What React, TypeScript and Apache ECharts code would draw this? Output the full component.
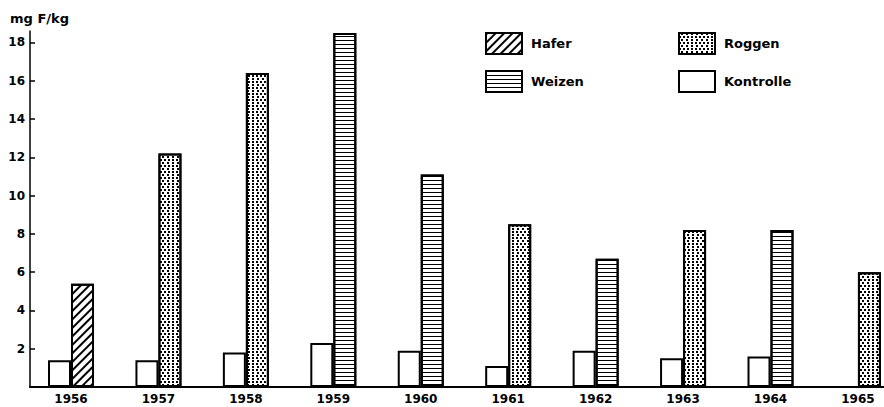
import React, { useEffect, useRef } from "react";
import * as echarts from "echarts";

// Fluoride content of grain per harvest year (mg F/kg)
const years = ["1956", "1957", "1958", "1959", "1960", "1961", "1962", "1963", "1964", "1965"];
const hafer: (number | null)[] = [5.4, null, null, null, null, null, null, null, null, null];
const roggen: (number | null)[] = [null, 12.2, 16.4, null, null, 8.5, null, 8.2, null, 6.0];
const weizen: (number | null)[] = [null, null, null, 18.5, 11.1, null, 6.7, null, 8.2, null];
const kontrolle: (number | null)[] = [1.4, 1.4, 1.8, 2.3, 1.9, 1.1, 1.9, 1.5, 1.6, null];
const yTicks = [2, 4, 6, 8, 10, 12, 14, 16, 18];

const FONT = "DejaVu Sans";
const ink = "#000";

const toPoints = (arr: (number | null)[]) => arr.map((v, i) => [i, v === null ? "-" : v]);

const hatch = {
  symbol: "rect",
  symbolSize: 1,
  color: ink,
  backgroundColor: "#fff",
  dashArrayX: [1, 0],
  dashArrayY: [1.5, 3.4],
  rotation: -Math.PI / 4,
};
const stipple = {
  symbol: "rect",
  symbolSize: 1,
  color: ink,
  backgroundColor: "#fff",
  dashArrayX: [
    [1.5, 1.9],
    [0, 1.7, 1.5, 0.2],
  ],
  dashArrayY: [1.5, 0.3],
};
const stripes = {
  symbol: "rect",
  symbolSize: 1,
  color: ink,
  backgroundColor: "#fff",
  dashArrayX: [1, 0],
  dashArrayY: [1, 3],
};

const barStyle = (decal?: object) => ({
  color: "#fff",
  borderColor: ink,
  borderWidth: 2,
  ...(decal ? { decal } : {}),
});

const legendAt = (name: string, left: number, top: number) => ({
  data: [name],
  left,
  top,
  padding: 0,
  icon: "rect",
  itemWidth: 36,
  itemHeight: 21,
  selectedMode: false,
  textStyle: {
    fontFamily: FONT,
    fontWeight: "bold",
    fontSize: 13,
    color: ink,
    padding: [0, 0, 0, 4],
  },
});

export default function App() {
  const ref = useRef<HTMLDivElement>(null);

  useEffect(() => {
    if (!ref.current) return;
    const chart = echarts.init(ref.current, null, { renderer: "svg" });
    const xMin = -0.469;
    const xMax = 9.298;
    chart.setOption({
      animation: false,
      backgroundColor: "#fff",
      grid: { left: 30, right: 0, top: 31, bottom: 20 },
      graphic: [
        {
          type: "text",
          left: 10,
          top: 12,
          style: {
            text: "mg F/kg",
            fontFamily: FONT,
            fontWeight: "bold",
            fontSize: 13,
            fill: ink,
          },
        },
      ],
      legend: [
        legendAt("Hafer", 485, 32),
        legendAt("Roggen", 678, 32),
        legendAt("Weizen", 485, 70),
        legendAt("Kontrolle", 678, 70),
      ],
      xAxis: {
        type: "value",
        min: xMin,
        max: xMax,
        splitLine: { show: false },
        axisLine: { lineStyle: { color: ink, width: 2 } },
        axisTick: { show: false },
        axisLabel: {
          customValues: years.map((_, i) => i),
          formatter: (v: number) => years[Math.round(v)] ?? "",
          margin: 6,
          color: ink,
          fontFamily: FONT,
          fontWeight: "bold",
          fontSize: 12,
        },
      },
      yAxis: {
        type: "value",
        min: 0,
        max: 18.6,
        splitLine: { show: false },
        axisLine: { show: true, onZero: false, lineStyle: { color: ink, width: 1.5 } },
        axisTick: { show: true, inside: true, length: 5, customValues: yTicks, lineStyle: { color: ink, width: 1.5 } },
        axisLabel: {
          customValues: yTicks,
          margin: 5,
          color: ink,
          fontFamily: FONT,
          fontWeight: "bold",
          fontSize: 12,
        },
      },
      series: [
        {
          name: "Kontrolle",
          type: "bar",
          barWidth: 23,
          barGap: "0%",
          data: toPoints(kontrolle),
          itemStyle: barStyle(),
        },
        {
          name: "Hafer",
          type: "bar",
          stack: "probe",
          barWidth: 23,
          barGap: "0%",
          data: toPoints(hafer),
          itemStyle: barStyle(hatch),
        },
        {
          name: "Roggen",
          type: "bar",
          stack: "probe",
          barWidth: 23,
          barGap: "0%",
          data: toPoints(roggen),
          itemStyle: barStyle(stipple),
        },
        {
          name: "Weizen",
          type: "bar",
          stack: "probe",
          barWidth: 23,
          barGap: "0%",
          data: toPoints(weizen),
          itemStyle: barStyle(stripes),
        },
      ],
    });
    return () => chart.dispose();
  }, []);

  return (
    <div
      ref={ref}
      style={{ position: "absolute", left: 0, top: 0, width: 884, height: 407 }}
    />
  );
}
